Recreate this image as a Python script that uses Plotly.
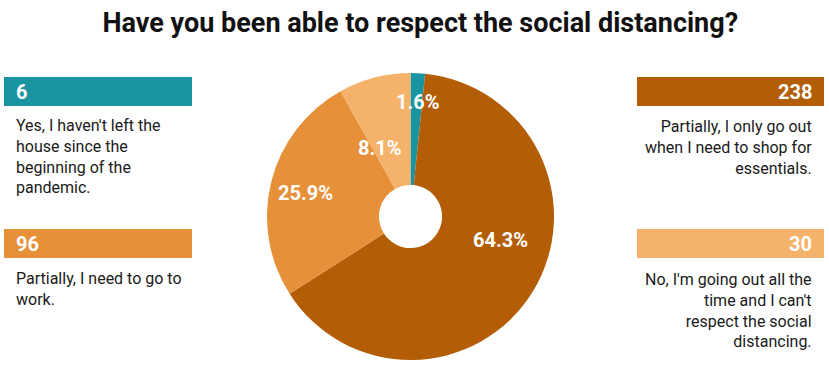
import math
import plotly.graph_objects as go

# ---- data ----
answers = [
    "Yes, I haven't left the<br>house since the<br>beginning of the<br>pandemic.",
    "Partially, I only go out<br>when I need to shop for<br>essentials.",
    "Partially, I need to go to<br>work.",
    "No, I'm going out all the<br>time and I can't<br>respect the social<br>distancing.",
]
counts = [6, 238, 96, 30]
colors = ["#1a94a1", "#b35e06", "#e6913a", "#f5b26b"]
title = "Have you been able to respect the social distancing?"

# label placement style (fraction of radius, angle shift in degrees)
label_radius = [0.80, 0.645, 0.75, 0.52]
label_shift = [0.8, -16.9, -1.5, -9.4]

W, H = 829, 366
PIE_X = (267, 554)
PIE_Y = (73, 360)


def px(x):
    return x / W


def py(y):
    return 1 - y / H


fig = go.Figure()
fig.add_trace(go.Pie(
    values=counts,
    labels=[a.replace("<br>", " ") for a in answers],
    marker=dict(colors=colors, line=dict(width=0)),
    sort=False,
    direction="clockwise",
    rotation=0,
    hole=0.22,
    textinfo="none",
    showlegend=False,
    domain=dict(x=[px(PIE_X[0]), px(PIE_X[1])], y=[py(PIE_Y[1]), py(PIE_Y[0])]),
    hoverinfo="label+value+percent",
))

annotations = []

# percentage labels inside slices
total = sum(counts)
cx = (PIE_X[0] + PIE_X[1]) / 2
cy = (PIE_Y[0] + PIE_Y[1]) / 2
R = (PIE_X[1] - PIE_X[0]) / 2
cum = 0
for i, v in enumerate(counts):
    mid = (cum + v / 2) / total * 360 + label_shift[i]
    cum += v
    th = math.radians(mid)
    lx = cx + label_radius[i] * R * math.sin(th)
    ly = cy - label_radius[i] * R * math.cos(th)
    annotations.append(dict(xref="paper", yref="paper", x=px(lx), y=py(ly),
                            text=f"<b>{v / total * 100:.1f}%</b>", showarrow=False,
                            xanchor="center", yanchor="middle",
                            font=dict(family="Roboto", size=20, color="white")))

# legend panels: (index, side, bar top, text top)
panels = [
    (0, "left", 77, 114),
    (2, "left", 229, 267),
    (1, "right", 77, 115),
    (3, "right", 229, 268),
]
shapes = []
for idx, side, top, ttop in panels:
    if side == "left":
        x0, x1 = 4, 192
        tx, anchor = 14, "left"
    else:
        x0, x1 = 637, 824
        tx, anchor = 814, "right"
    shapes.append(dict(type="rect", xref="paper", yref="paper",
                       x0=px(x0), x1=px(x1), y0=py(top + 29), y1=py(top),
                       fillcolor=colors[idx], line=dict(width=0), layer="below"))
    annotations.append(dict(xref="paper", yref="paper", x=px(tx), y=py(top + 15),
                            text=f"<b>{counts[idx]}</b>", showarrow=False,
                            xanchor=anchor, yanchor="middle",
                            font=dict(family="Roboto", size=20, color="white")))
    annotations.append(dict(xref="paper", yref="paper", x=px(tx), y=py(ttop),
                            text=answers[idx], showarrow=False,
                            xanchor=anchor, yanchor="top", align=anchor,
                            font=dict(family="Roboto", size=16, color="#1a1a1a")))

fig.update_layout(
    width=W, height=H,
    margin=dict(l=0, r=0, t=0, b=0),
    paper_bgcolor="white",
    plot_bgcolor="white",
    title=dict(text=f"<b>{title}</b>", x=0.507, xanchor="center", y=py(23), yanchor="middle",
               font=dict(family="Roboto", size=27, color="#111111")),
    shapes=shapes,
    annotations=annotations,
)

fig.write_html("out.html", config={"displayModeBar": False},
               post_script="document.body.style.margin='0';")
